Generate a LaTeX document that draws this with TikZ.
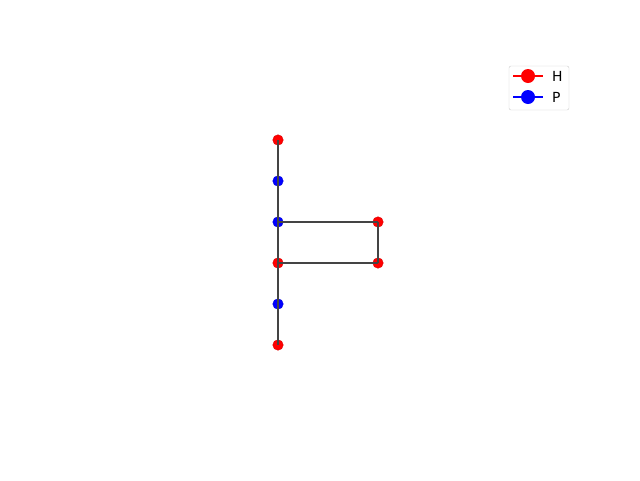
\documentclass[tikz,border=0pt]{standalone}
\usepackage{fontspec}
\setmainfont{DejaVu Sans}
\usetikzlibrary{positioning}
\definecolor{edgegray}{HTML}{444444}
\tikzset{hnode/.style={circle,fill=red,draw=red!85!black,minimum size=10.5pt, inner sep=0pt},
pnode/.style={circle,fill=blue,draw=blue!85!black,minimum size=10.5pt, inner sep=0pt},}

\begin{document}
\begin{tikzpicture}[x=1pt,y=-1pt]
          \useasboundingbox (0,0) rectangle (640,480);
          \node[hnode] (1) at (278,140) {};
          \node[pnode] (2) at (278,181) {};
          \node[pnode] (3) at (278,222) {};
          \node[hnode] (4) at (278,263) {};
          \node[pnode] (5) at (278,304) {};
          \node[hnode] (6) at (278,345) {};
          \node[hnode] (7) at (378,222) {};
          \node[hnode] (8) at (378,263) {};

          \path[draw=edgegray,line width=1.8pt]
          (1.center) edge (2.center)
          (2.center) edge (3.center)
          (3.center) edge (4.center)
          (4.center) edge (5.center)
          (5.center) edge (6.center)
          (3.center) edge (7.center)
          (7.center) edge (8.center)
          (8.center) edge (4.center);

          % legend
          \draw[gray!40,fill=white,rounded corners=2pt] (509,66) rectangle (569,110);
          \coordinate (hl) at (513,76);
          \coordinate (hr) at (543,76);
          \coordinate (pl) at (513,97);
          \coordinate (pr) at (543,97);
          \draw[red,line width=1.5pt] (hl) -- (hr);
          \draw[blue,line width=1.5pt] (pl) -- (pr);
          \node[circle,fill=red,minimum size=14pt,inner sep=0pt] (hmark) at (528,76) {};
          \node[circle,fill=blue,minimum size=14pt,inner sep=0pt] (pmark) at (528,97) {};
          \node[anchor=west,font=\fontsize{13.9}{16}\selectfont,inner sep=0pt] (hlab) at (552,76) {H};
          \node[anchor=west,font=\fontsize{13.9}{16}\selectfont,inner sep=0pt] (plab) at (552,97) {P};
        \end{tikzpicture}
\end{document}
